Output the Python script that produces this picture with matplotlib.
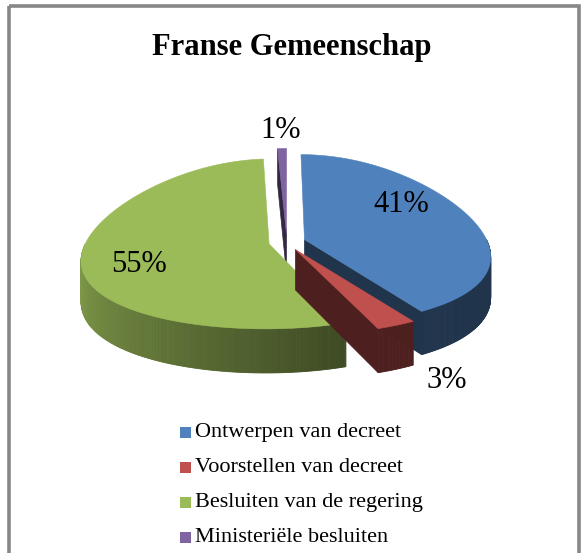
import numpy as np
import matplotlib
matplotlib.use("Agg")
import matplotlib.pyplot as plt
from matplotlib.patches import Polygon, Rectangle
from matplotlib.colors import to_rgb

# ---- data ----
title = "Franse Gemeenschap"
categories = ["Ontwerpen van decreet", "Voorstellen van decreet",
              "Besluiten van de regering", "Ministeriële besluiten"]
values = [41, 3, 55, 1]
labels = ["41%", "3%", "55%", "1%"]
colors = ["#4F81BD", "#C0504D", "#9BBB59", "#8064A2"]

W, H = 581, 553
fig = plt.figure(figsize=(W / 100, H / 100), dpi=100)
ax = fig.add_axes([0, 0, 1, 1])
ax.set_xlim(0, W)
ax.set_ylim(H, 0)
ax.axis("off")

SERIF = ["Liberation Serif", "DejaVu Serif"]

# frame
ax.add_patch(Rectangle((9, 6), 570, 560, fill=False, ec="#878787", lw=2.6, zorder=0))

# title
ax.text(292, 48, title, ha="center", va="center", fontsize=22, fontweight="bold",
        family=SERIF, color="black")

# ---- 3D pie geometry ----
cx, cy = 287, 242
rx, ry = 183, 85
depth = 40
explode = 0.1
persp = 0.2   # front part appears wider than back

total = float(sum(values))
angles = []
cum = 0.0
for v in values:
    t1 = 90 - 360 * cum / total
    cum += v
    t2 = 90 - 360 * cum / total
    angles.append((t2, t1))


def shade(theta):
    th = theta % 360
    if th < 90:
        th += 360
    if th <= 180:
        return 0.88
    if th >= 290:
        return 0.40
    return 0.40 + 0.48 * (290 - th) / 110


def scale(c, f):
    r, g, b = to_rgb(c)
    return (r * f, g * f, b * f)


def proj(u, v, dz=0):
    k = 1 - persp * v
    return (cx + rx * u * k, cy - ry * v + dz * (1 + 0.1 * -v))


def pt(ou, ov, th, dz=0):
    r = np.radians(th)
    return proj(ou + np.cos(r), ov + np.sin(r), dz)


order = [3, 2, 0, 1]  # back to front
label_pos = {0: (401, 204), 1: (447, 380), 2: (139, 264), 3: (281, 131)}

for i in order:
    t2, t1 = angles[i]
    mid = np.radians((t1 + t2) / 2)
    ou = explode * np.cos(mid)
    ov = explode * np.sin(mid)
    col = colors[i]
    z = 2 + order.index(i) * 3
    apex = proj(ou, ov)
    apex_b = proj(ou, ov, depth)

    # cut faces
    for th, sign in ((t2, -1), (t1, 1)):
        nrm = np.radians(th + sign * 90)
        if np.sin(nrm) < -1e-6:
            quad = [apex, pt(ou, ov, th), pt(ou, ov, th, depth), apex_b]
            fc = scale(col, 0.40)
            ax.add_patch(Polygon(quad, closed=True, fc=fc, ec=fc, lw=0.5, zorder=z))

    # outer curved side
    ths = np.linspace(t2, t1, max(int((t1 - t2) * 2), 4))
    for a, b in zip(ths[:-1], ths[1:]):
        m = (a + b) / 2
        if np.sin(np.radians(m)) < 0:
            quad = [pt(ou, ov, a), pt(ou, ov, b), pt(ou, ov, b, depth), pt(ou, ov, a, depth)]
            fc = scale(col, shade(m))
            ax.add_patch(Polygon(quad, closed=True, fc=fc, ec=fc, lw=0.6, zorder=z + 1))

    # top face
    arc = [pt(ou, ov, th) for th in np.linspace(t2, t1, 200)]
    ax.add_patch(Polygon([apex] + arc, closed=True, fc=col, ec=col, lw=0.4, zorder=z + 2))

for i in range(len(values)):
    x, y = label_pos[i]
    ax.text(x, y, labels[i], ha="center", va="center", fontsize=22, family=SERIF,
            color="black", zorder=30)

# ---- legend ----
leg_y = [432, 467, 502, 537]
for i, cat in enumerate(categories):
    ax.add_patch(Rectangle((180, leg_y[i] - 5.5), 11, 11, fc=colors[i], ec="none", zorder=5))
    ax.text(195, leg_y[i], cat, ha="left", va="center", fontsize=16, family=SERIF,
            color="black")

fig.savefig("out.png", dpi=100)
